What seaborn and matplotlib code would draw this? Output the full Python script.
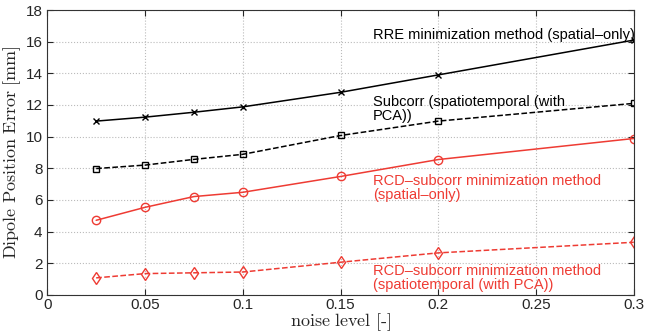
import matplotlib
matplotlib.use("Agg")
import matplotlib.pyplot as plt
import seaborn as sns
import pandas as pd

noise = [0.025, 0.05, 0.075, 0.1, 0.15, 0.2, 0.3]
rre = [10.98, 11.23, 11.54, 11.88, 12.8, 13.9, 16.1]
subcorr = [7.98, 8.2, 8.56, 8.88, 10.07, 10.98, 12.1]
rcd_spatial = [4.71, 5.53, 6.21, 6.48, 7.48, 8.55, 9.88]
rcd_st = [1.07, 1.34, 1.39, 1.44, 2.06, 2.65, 3.32]

labels = ["RRE minimization method (spatial\u2013only)",
          "Subcorr (spatiotemporal (with\nPCA))",
          "RCD\u2013subcorr minimization method\n(spatial\u2013only)",
          "RCD\u2013subcorr minimization method\n(spatiotemporal (with PCA))"]

sns.set_style("ticks")
plt.rcParams['font.family'] = ['Liberation Sans', 'DejaVu Sans']
plt.rcParams['mathtext.fontset'] = 'cm'

RED = '#ee3b33'
fig, ax = plt.subplots(figsize=(6.48, 3.35), dpi=100)
fig.subplots_adjust(left=0.073, right=0.978, top=0.97, bottom=0.12)

series = [
    (rre, 'black', '-', 'x', 4),
    (subcorr, 'black', '--', 's', 4),
    (rcd_spatial, RED, '-', 'o', 6),
    (rcd_st, RED, '--', 'd', 6),
]
for vals, c, ls, m, ms in series:
    df = pd.DataFrame({'x': noise, 'y': vals})
    sns.lineplot(data=df, x='x', y='y', ax=ax, color=c, linestyle=ls,
                 marker=m, markersize=ms, markerfacecolor='none',
                 markeredgecolor=c, markeredgewidth=1.0, linewidth=1.1)

ax.set_xlim(0, 0.3)
ax.set_ylim(0, 18)
ax.set_xticks([0, 0.05, 0.1, 0.15, 0.2, 0.25, 0.3])
ax.set_xticklabels(['0', '0.05', '0.1', '0.15', '0.2', '0.25', '0.3'])
ax.set_yticks(range(0, 19, 2))
ax.tick_params(labelsize=11, direction='in', length=4, top=True, right=True)
ax.tick_params(axis='x', pad=2)
ax.grid(True, linestyle=':', color='#bbbbbb', linewidth=0.8)
for s in ax.spines.values():
    s.set_color('#333333')
    s.set_linewidth(0.8)

ax.set_xlabel(r'$\mathrm{noise\ level\ [\text{-}]}$', fontsize=13, labelpad=0)
ax.set_ylabel(r'$\mathrm{Dipole\ Position\ Error\ [mm]}$', fontsize=13, labelpad=2)

ax.text(0.1665, 16.4, labels[0], fontsize=10.5, color='black', va='center', ha='left')
ax.text(0.1665, 11.75, labels[1], fontsize=10.5, color='black', va='center', ha='left', linespacing=1.0)
ax.text(0.1665, 6.75, labels[2], fontsize=10.5, color=RED, va='center', ha='left', linespacing=1.0)
ax.text(0.1665, 1.06, labels[3], fontsize=10.5, color=RED, va='center', ha='left', linespacing=1.0)

fig.savefig('out.png', dpi=100)
